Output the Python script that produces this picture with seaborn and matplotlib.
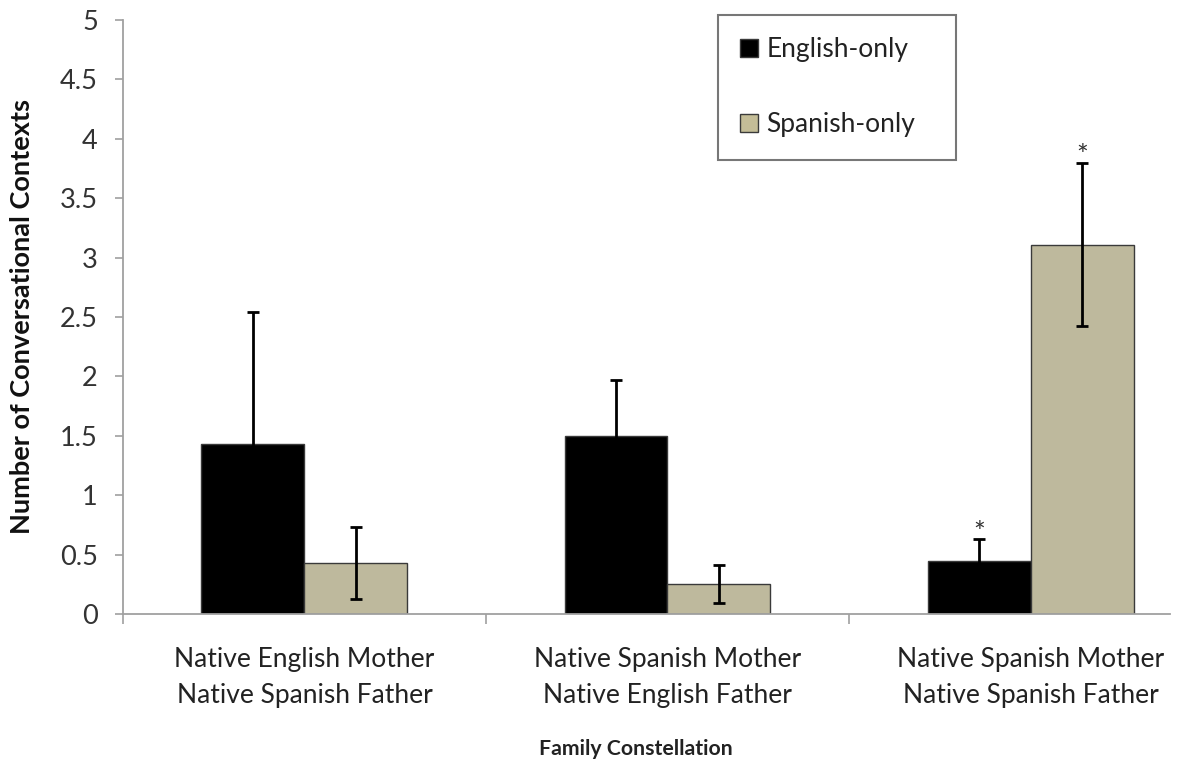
import matplotlib
matplotlib.use("Agg")
import matplotlib.pyplot as plt
import seaborn as sns
import pandas as pd
from matplotlib.patches import Patch

categories = ["Native English Mother\nNative Spanish Father",
              "Native Spanish Mother\nNative English Father",
              "Native Spanish Mother\nNative Spanish Father"]
series = ["English-only", "Spanish-only"]
english_vals = [1.43, 1.50, 0.45]
english_err = [1.11, 0.47, 0.18]
spanish_vals = [0.43, 0.25, 3.11]
spanish_err = [0.30, 0.16, 0.69]
significant_english = [False, False, True]
significant_spanish = [False, False, True]
y_ticks = [0, 0.5, 1, 1.5, 2, 2.5, 3, 3.5, 4, 4.5, 5]
y_tick_labels = ["0", "0.5", "1", "1.5", "2", "2.5", "3", "3.5", "4", "4.5", "5"]

colors = ["#000000", "#C4BD97"]

df = pd.DataFrame({
    "group": categories * 2,
    "lang": [series[0]] * 3 + [series[1]] * 3,
    "value": english_vals + spanish_vals,
})
errs = [english_err, spanish_err]
sigs = [significant_english, significant_spanish]

sns.set_style("white")
plt.rcParams["font.family"] = ["Lato", "DejaVu Sans"]

fig = plt.figure(figsize=(11.81, 7.68), dpi=100)
ax = fig.add_axes([0.104, 0.2005, 0.8867, 0.7735])

sns.barplot(data=df, x="group", y="value", hue="lang", palette=colors,
            hue_order=series, order=categories, width=0.567,
            edgecolor="#3a3a3a", linewidth=1.0, errorbar=None, ax=ax,
            legend=False)

bar_conts = list(ax.containers)
for ci, cont in enumerate(bar_conts):
    for bi, bar in enumerate(cont.patches):
        xc = bar.get_x() + bar.get_width() / 2
        h = bar.get_height()
        e = errs[ci][bi]
        ax.errorbar(xc, h, yerr=e, fmt="none", ecolor="#000000",
                    elinewidth=2.0, capsize=4.5, capthick=2.0, zorder=5)
        if sigs[ci][bi]:
            ax.annotate("*", (xc, h + e), xytext=(0, -2), textcoords="offset points",
                        ha="center", va="baseline", fontsize=20, color="#333333")

ax.set_ylim(0, 5)
ax.set_xlim(-0.5, 2.384)
ax.set_yticks(y_ticks)
ax.set_yticklabels(y_tick_labels)
ax.set_xticks([-0.5, 0.5, 1.5], minor=True)

for s in ["top", "right"]:
    ax.spines[s].set_visible(False)
for s in ["left", "bottom"]:
    ax.spines[s].set_color("#a0a0a0")
    ax.spines[s].set_linewidth(1.3)

ax.tick_params(axis="y", which="major", length=6, width=1.2, color="#a0a0a0",
               labelsize=19.5, labelcolor="#333333", pad=12, left=True, direction="out")
ax.tick_params(axis="x", which="major", length=0, labelsize=19,
               labelcolor="#222222", pad=24)
ax.tick_params(axis="x", which="minor", length=7, width=1.2, color="#a0a0a0",
               bottom=True, direction="out")
for lab in ax.get_xticklabels():
    lab.set_linespacing(1.55)

ax.set_xlabel("Family Constellation", fontsize=15.3, fontweight="bold", color="#222222")
ax.xaxis.set_label_coords(0.49, -0.21)
ax.set_ylabel("Number of Conversational Contexts", fontsize=19.5, fontweight="bold",
              color="#111111")
ax.yaxis.set_label_coords(-0.085, 0.5)

handles = [Patch(facecolor=colors[i], edgecolor="#3a3a3a", linewidth=1.0, label=series[i])
           for i in range(2)]
leg = ax.legend(handles=handles, loc="upper left",
                bbox_to_anchor=(0.608, 0.5, 0.2015, 0.481),
                bbox_transform=fig.transFigure, mode="expand", frameon=True, fancybox=False,
                fontsize=19, labelspacing=1.9, borderpad=0.85, handlelength=0.68,
                handleheight=0.68, handletextpad=0.3, borderaxespad=0)
leg.get_frame().set_edgecolor("#555555")
leg.get_frame().set_linewidth(1.5)
for t in leg.get_texts():
    t.set_color("#222222")

fig.savefig("out.png", dpi=100)
